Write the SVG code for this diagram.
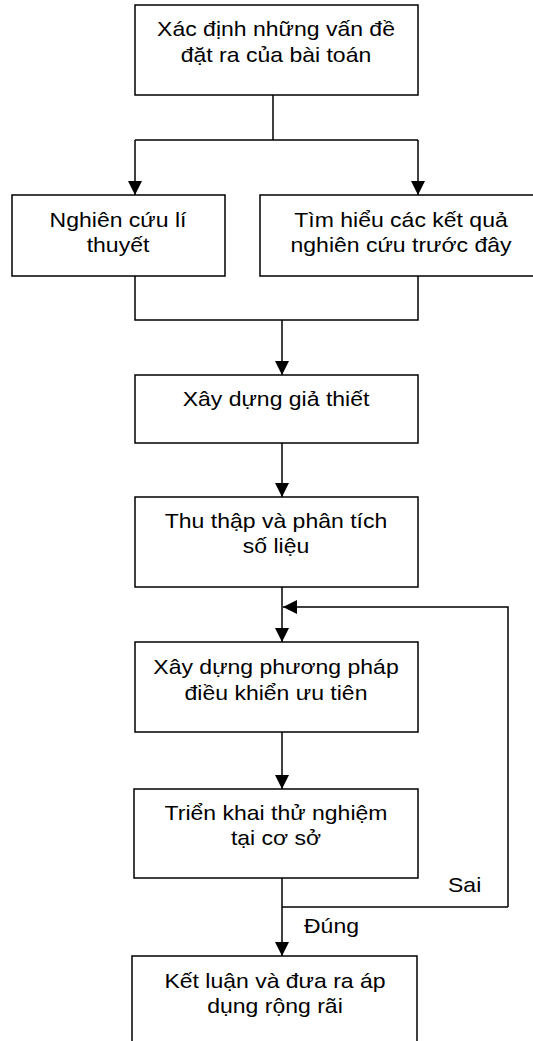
<svg xmlns="http://www.w3.org/2000/svg" width="533" height="1041" viewBox="0 0 533 1041">
<style>
.box{fill:#fff;stroke:#000;stroke-width:1.5}
.ln{fill:none;stroke:#000;stroke-width:1.5}
text{font-family:"Liberation Sans",Arial,sans-serif;font-size:20px;fill:#000}
.c{text-anchor:middle}
</style>
<defs>
<marker id="ah" markerUnits="userSpaceOnUse" markerWidth="14" markerHeight="14" viewBox="0 0 14 14" refX="14" refY="7" orient="auto">
<path d="M0,0 L14,7 L0,14 Z" fill="#000"/>
</marker>
</defs>
<rect width="533" height="1041" fill="#fff"/>
<g id="connectors">
<path class="ln" d="M273,95 V140"/>
<path class="ln" d="M135,140 H418"/>
<path class="ln" d="M135,140 V195" marker-end="url(#ah)"/>
<path class="ln" d="M418,140 V195" marker-end="url(#ah)"/>
<path class="ln" d="M135,276 V320 H418 V276"/>
<path class="ln" d="M282,320 V375" marker-end="url(#ah)"/>
<path class="ln" d="M282,443 V497" marker-end="url(#ah)"/>
<path class="ln" d="M282,587 V642" marker-end="url(#ah)"/>
<path class="ln" d="M508,907 V607 H283" marker-end="url(#ah)"/>
<path class="ln" d="M282,732 V789" marker-end="url(#ah)"/>
<path class="ln" d="M282,878 V956" marker-end="url(#ah)"/>
<path class="ln" d="M282,907 H508"/>
<text transform="translate(448,892) scale(1.15,1)">Sai</text>
<text transform="translate(304,933) scale(1.15,1)">Đúng</text>
</g>
<g id="n1">
<rect class="box" x="135" y="5" width="283" height="90"/>
<text class="c" transform="translate(276,36) scale(1.15,1)">Xác định những vấn đề</text>
<text class="c" transform="translate(276,62) scale(1.15,1)">đặt ra của bài toán</text>
</g>
<g id="n2">
<rect class="box" x="12" y="195" width="213" height="81"/>
<text class="c" transform="translate(118,227) scale(1.15,1)">Nghiên cứu lí</text>
<text class="c" transform="translate(118,252) scale(1.15,1)">thuyết</text>
</g>
<g id="n3">
<rect class="box" x="260" y="195" width="290" height="81"/>
<text class="c" transform="translate(401,227) scale(1.15,1)">Tìm hiểu các kết quả</text>
<text class="c" transform="translate(401,252) scale(1.15,1)">nghiên cứu trước đây</text>
</g>
<g id="n4">
<rect class="box" x="135" y="375" width="283" height="68"/>
<text class="c" transform="translate(276,406) scale(1.15,1)">Xây dựng giả thiết</text>
</g>
<g id="n5">
<rect class="box" x="135" y="497" width="283" height="90"/>
<text class="c" transform="translate(276,528) scale(1.15,1)">Thu thập và phân tích</text>
<text class="c" transform="translate(276,553) scale(1.15,1)">số liệu</text>
</g>
<g id="n6">
<rect class="box" x="135" y="642" width="283" height="90"/>
<text class="c" transform="translate(276,674) scale(1.15,1)">Xây dựng phương pháp</text>
<text class="c" transform="translate(276,700) scale(1.15,1)">điều khiển ưu tiên</text>
</g>
<g id="n7">
<rect class="box" x="134" y="789" width="284" height="89"/>
<text class="c" transform="translate(276,820) scale(1.15,1)">Triển khai thử nghiệm</text>
<text class="c" transform="translate(276,845) scale(1.15,1)">tại cơ sở</text>
</g>
<g id="n8">
<rect class="box" x="132" y="956" width="285" height="100"/>
<text class="c" transform="translate(275,988) scale(1.15,1)">Kết luận và đưa ra áp</text>
<text class="c" transform="translate(275,1013) scale(1.15,1)">dụng rộng rãi</text>
</g>
</svg>
